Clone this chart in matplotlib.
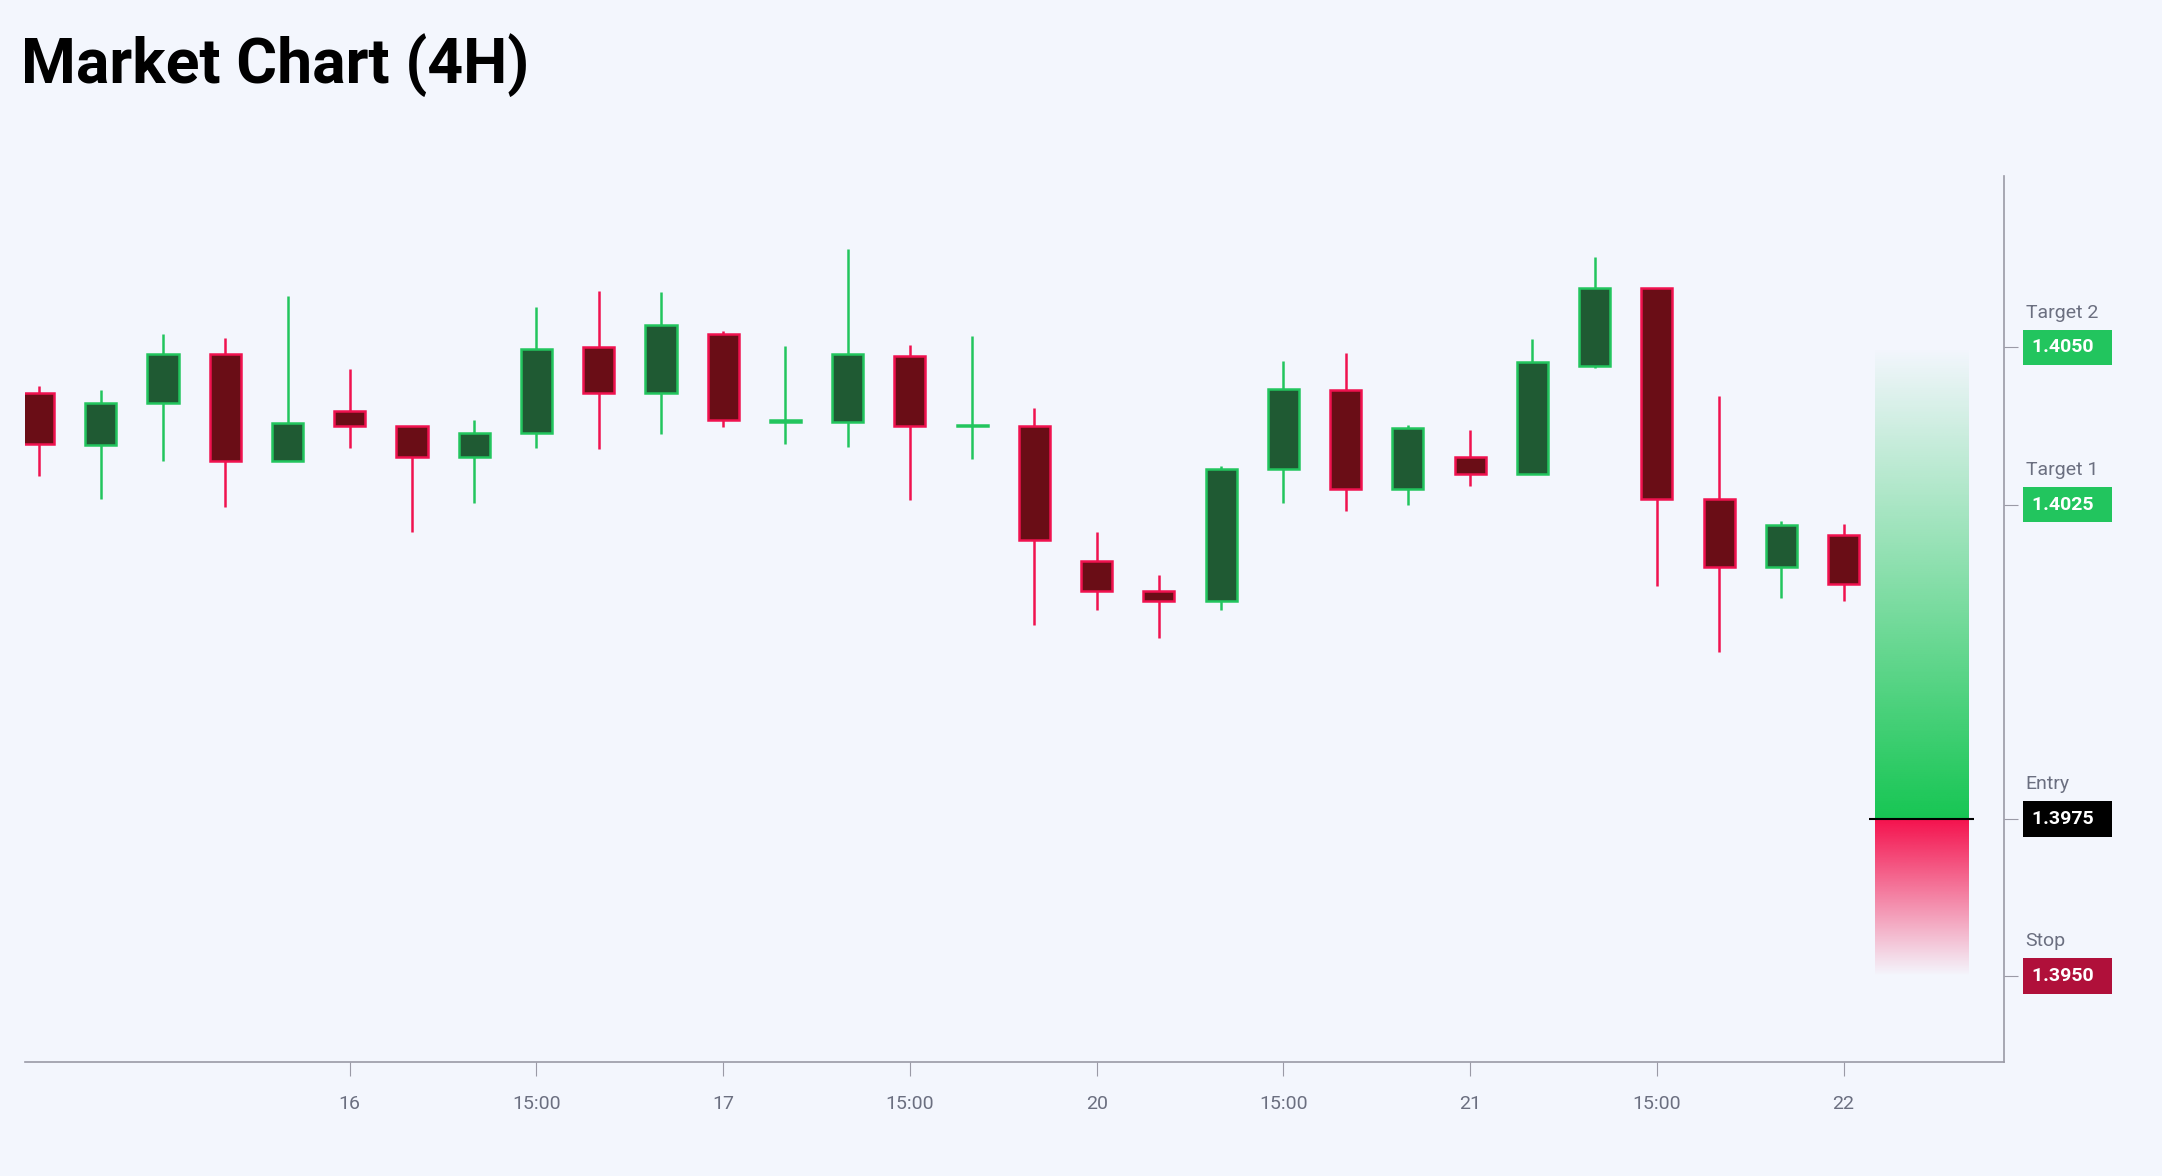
import numpy as np
import matplotlib.pyplot as plt
from matplotlib.colors import to_rgb
from matplotlib.transforms import blended_transform_factory

plt.rcParams['font.family'] = ['Roboto', 'DejaVu Sans']

# OHLC
opens = [1.40428, 1.40344, 1.40412, 1.40489, 1.40320, 1.40399, 1.40375, 1.40325, 1.40364, 1.40500,
         1.40428, 1.40522, 1.40382, 1.40382, 1.40487, 1.40375, 1.40375, 1.40160, 1.40112, 1.40096,
         1.40307, 1.40432, 1.40274, 1.40325, 1.40298, 1.40471, 1.40594, 1.40259, 1.40151, 1.40202]
closes = [1.40346, 1.40412, 1.40489, 1.40320, 1.40379, 1.40375, 1.40325, 1.40364, 1.40498, 1.40428,
          1.40535, 1.40384, 1.40384, 1.40489, 1.40375, 1.40375, 1.40193, 1.40112, 1.40096, 1.40307,
          1.40434, 1.40274, 1.40371, 1.40298, 1.40476, 1.40594, 1.40259, 1.40151, 1.40217, 1.40123]
highs = [1.40439, 1.40432, 1.40522, 1.40515, 1.40581, 1.40465, 1.40375, 1.40384, 1.40564, 1.40590,
         1.40588, 1.40526, 1.40502, 1.40656, 1.40504, 1.40518, 1.40404, 1.40206, 1.40138, 1.40311,
         1.40478, 1.40491, 1.40377, 1.40368, 1.40513, 1.40643, 1.40594, 1.40423, 1.40224, 1.40219]
lows = [1.40296, 1.40259, 1.40320, 1.40246, 1.40320, 1.40340, 1.40206, 1.40252, 1.40340, 1.40338,
        1.40362, 1.40373, 1.40346, 1.40342, 1.40257, 1.40322, 1.40059, 1.40083, 1.40037, 1.40083,
        1.40252, 1.40239, 1.40250, 1.40279, 1.40298, 1.40467, 1.40121, 1.40015, 1.40101, 1.40096]

tick_idx = [5, 8, 11, 14, 17, 20, 23, 26, 29]
tick_labels = ["16", "15:00", "17", "15:00", "20", "15:00", "21", "15:00", "22"]

levels = [1.4050, 1.4025, 1.3975, 1.3950]
level_names = ["Target 2", "Target 1", "Entry", "Stop"]
level_colors = ["#22c55e", "#22c55e", "#000000", "#b0103a"]

BG = "#f3f6fd"
GREEN_EDGE = "#22c55e"
GREEN_BODY = "#1f5a33"
RED_EDGE = "#f0124f"
RED_BODY = "#6a0d16"

fig = plt.figure(figsize=(21.62, 11.76), dpi=100, facecolor=BG)
ax = fig.add_axes([0.0115, 0.0973, 0.9152, 0.7527], facecolor=BG)

x = np.arange(len(opens))
for i in x:
    o, c, h, l = opens[i], closes[i], highs[i], lows[i]
    up = c >= o
    edge = GREEN_EDGE if up else RED_EDGE
    body = GREEN_BODY if up else RED_BODY
    ax.vlines(i, l, h, color=edge, lw=1.8, zorder=2)
    bottom = min(o, c)
    height = max(abs(c - o), 0.000012)
    ax.bar(i, height, bottom=bottom, width=0.5, color=body, edgecolor=edge, lw=1.8, zorder=3)

# trade zone gradients
x0, x1 = 29.5, 31.0
green = np.array(to_rgb("#16c653"))
red = np.array(to_rgb("#f5104c"))
n = 256
g = np.zeros((n, 1, 4))
g[:, 0, :3] = green
g[:, 0, 3] = np.linspace(0.0, 1.0, n)
ax.imshow(g, extent=[x0, x1, levels[2], levels[0]], aspect="auto", origin="upper", zorder=1)
r = np.zeros((n, 1, 4))
r[:, 0, :3] = red
r[:, 0, 3] = np.linspace(1.0, 0.0, n)
ax.imshow(r, extent=[x0, x1, levels[3], levels[2]], aspect="auto", origin="upper", zorder=1)
ax.hlines(levels[2], x0 - 0.09, x1 + 0.09, color="black", lw=1.5, zorder=4)

ax.set_xlim(-0.22, 31.57)
ax.set_ylim(1.39364, 1.40772)

for s in ["top", "left"]:
    ax.spines[s].set_visible(False)
for s in ["bottom", "right"]:
    ax.spines[s].set_color("#9a9aa6")
    ax.spines[s].set_linewidth(1.2)

ax.set_xticks(tick_idx)
ax.set_xticklabels(tick_labels)
ax.tick_params(axis="x", length=10, color="#9a9aa6", labelsize=14, labelcolor="#6b6f80", pad=14)
ax.yaxis.tick_right()
ax.set_yticks(levels)
ax.set_yticklabels([])
ax.tick_params(axis="y", length=10, color="#9a9aa6")

tr = blended_transform_factory(ax.transAxes, ax.transData)
for lv, name, col in zip(levels, level_names, level_colors):
    ax.text(1.0112, lv + 0.00055, name, transform=tr, fontsize=14, color="#6b6f80",
            va="center", ha="left")
    ax.text(1.0145, lv, f"{lv:.4f}  ", transform=tr, fontsize=14, color="white",
            fontweight="bold", va="center", ha="left",
            bbox=dict(boxstyle="square,pad=0.45", facecolor=col, edgecolor="none"))

fig.text(0.0095, 0.945, "Market Chart (4H)", fontsize=45, fontweight="bold",
         color="black", va="center", ha="left")

fig.savefig("out.png", dpi=100, facecolor=BG)
